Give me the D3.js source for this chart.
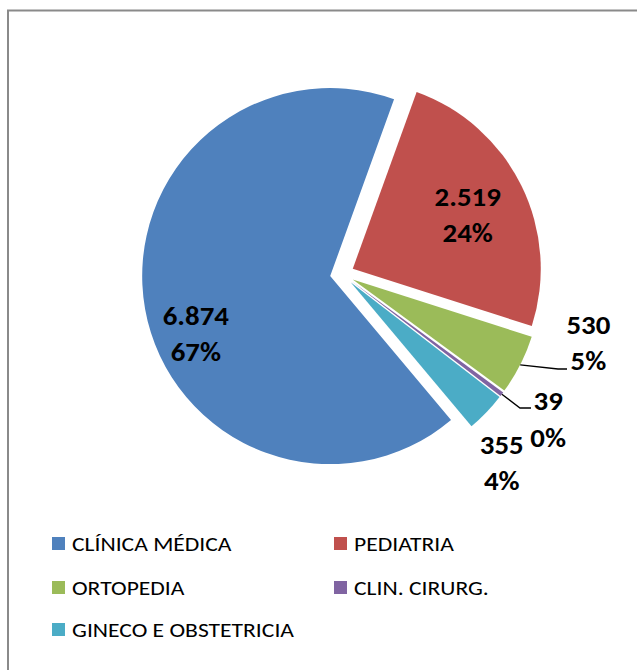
<!DOCTYPE html>
<html>
<head>
<meta charset="utf-8">
<script src="https://cdn.jsdelivr.net/npm/d3@7"></script>
<style>
  html, body { margin: 0; padding: 0; background: #fff; }
  svg { display: block; }
</style>
</head>
<body>
<svg id="chart" width="637" height="670"></svg>
<script>
// ---- data ----
const categories = ["CLÍNICA MÉDICA", "PEDIATRIA", "ORTOPEDIA", "CLIN. CIRURG.", "GINECO E OBSTETRICIA"];
const values = [6874, 2519, 530, 39, 355];
const percentLabels = ["67%", "24%", "5%", "0%", "4%"];
const colors = ["#4F81BD", "#C0504D", "#9BBB59", "#8064A2", "#4BACC6"];

// ---- layout ----
const W = 637, H = 670;
const cx = 342, cy = 274, R = 188, explode = 12;
const firstSliceAngle = 140; // degrees, clockwise from 12 o'clock
const fontFamily = "Carlito, Calibri, Lato, 'Open Sans', sans-serif";
const textStretch = 1.11; // horizontal stretch of the reference text

// label placement: [angle deg, distance] measured from the exploded slice apex
const labelPolar = [[247, 146], [64.8, 127], [105, 244], [125, 240], [140, 235]];
// leader line elbows (only for outside labels with a leader)
const leaderPts = { 2: [[558, 369], [567, 369]], 3: [[520, 408], [531, 408]] };

const svg = d3.select("#chart");

// frame (cropped, only top and left sides visible)
svg.append("rect")
  .attr("x", 8).attr("y", 10.5)
  .attr("width", W + 50).attr("height", H + 50)
  .attr("fill", "none").attr("stroke", "#8a8a8a").attr("stroke-width", 2);

const start = firstSliceAngle * Math.PI / 180;
const pie = d3.pie().sort(null).value(d => d).startAngle(start).endAngle(start + 2 * Math.PI);
const arcs = pie(values);
const arc = d3.arc().innerRadius(0).outerRadius(R);

const g = svg.append("g").attr("transform", `translate(${cx},${cy})`);

function apex(d) {
  const a = (d.startAngle + d.endAngle) / 2;
  return [explode * Math.sin(a), -explode * Math.cos(a)];
}

g.selectAll("path.slice")
  .data(arcs)
  .join("path")
  .attr("class", "slice")
  .attr("d", arc)
  .attr("fill", (d, i) => colors[i])
  .attr("transform", d => { const p = apex(d); return `translate(${p[0]},${p[1]})`; });

// leader lines
Object.keys(leaderPts).forEach(k => {
  const i = +k, d = arcs[i];
  const p = apex(d);
  const a = (d.startAngle + d.endAngle) / 2;
  const s = [cx + p[0] + R * Math.sin(a), cy + p[1] - R * Math.cos(a)];
  const pts = [s].concat(leaderPts[k]);
  svg.append("path")
    .attr("d", d3.line()(pts))
    .attr("fill", "none").attr("stroke", "#000").attr("stroke-width", 1.3);
});

// data labels
const fmt = d3.formatLocale({ decimal: ",", thousands: ".", grouping: [3], currency: ["", ""] }).format(",");
arcs.forEach((d, i) => {
  const p = apex(d);
  const [ang, dist] = labelPolar[i];
  const a = ang * Math.PI / 180;
  const lx = cx + p[0] + dist * Math.sin(a);
  const ly = cy + p[1] - dist * Math.cos(a);
  const t = svg.append("text")
    .attr("transform", `translate(${lx},${ly}) scale(${textStretch},1)`)
    .attr("text-anchor", "middle")
    .attr("font-family", fontFamily)
    .attr("font-weight", "bold")
    .attr("font-size", 26)
    .attr("fill", "#000");
  t.append("tspan").attr("x", 0).attr("dy", "-0.33em").text(fmt(values[i]));
  t.append("tspan").attr("x", 0).attr("dy", "1.4em").text(percentLabels[i]);
});

// legend
const legendCols = [52, 334];
const legendRows = [537, 581, 623];
categories.forEach((c, i) => {
  const col = i % 2, row = Math.floor(i / 2);
  const x = legendCols[col], y = legendRows[row];
  svg.append("rect").attr("x", x).attr("y", y).attr("width", 13).attr("height", 13).attr("fill", colors[i]);
  svg.append("text")
    .attr("transform", `translate(${x + 20},${y + 14}) scale(1.18,1)`)
    .attr("font-family", fontFamily)
    .attr("font-size", 20)
    .attr("fill", "#000")
    .text(c);
});
</script>
</body>
</html>
